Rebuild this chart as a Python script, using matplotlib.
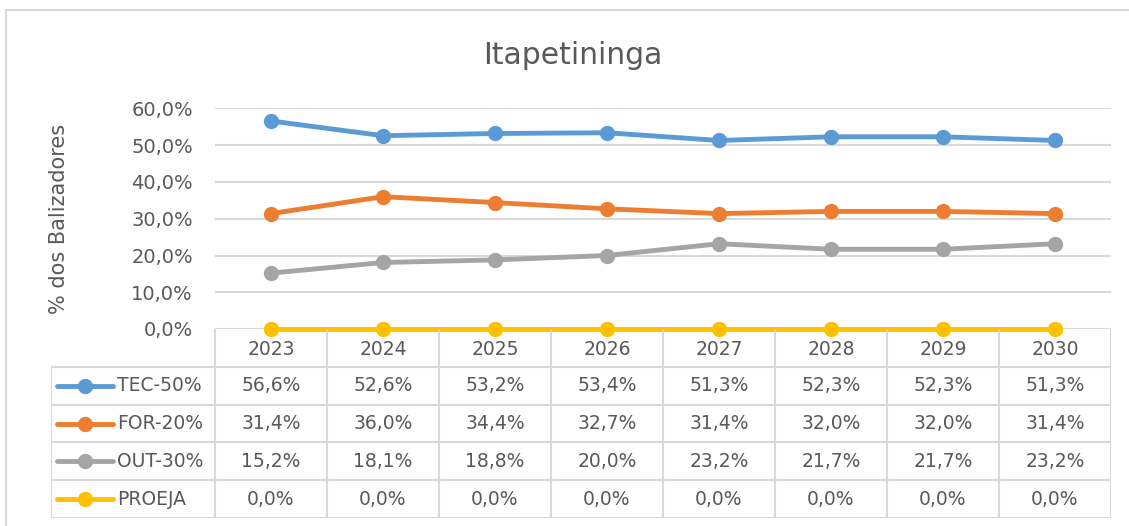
import matplotlib
matplotlib.use('Agg')
import matplotlib.pyplot as plt
from matplotlib.lines import Line2D
from matplotlib.ticker import FuncFormatter

# dados do grafico
anos = ['2023', '2024', '2025', '2026', '2027', '2028', '2029', '2030']
series = ['TEC-50%', 'FOR-20%', 'OUT-30%', 'PROEJA']
tec = [56.6, 52.6, 53.2, 53.4, 51.3, 52.3, 52.3, 51.3]
form = [31.4, 36.0, 34.4, 32.7, 31.4, 32.0, 32.0, 31.4]
out = [15.2, 18.1, 18.8, 20.0, 23.2, 21.7, 21.7, 23.2]
proeja = [0.0, 0.0, 0.0, 0.0, 0.0, 0.0, 0.0, 0.0]
cores = ['#5B9BD5', '#ED7D31', '#A5A5A5', '#FFC000']

W, H = 1129, 526
txt = '#595959'
grade = '#D9D9D9'

fig = plt.figure(figsize=(W / 100, H / 100), dpi=100)

def px(x0, y0, x1, y1):
    return [x0 / W, 1 - y1 / H, (x1 - x0) / W, (y1 - y0) / H]

# area do grafico
ax = fig.add_axes(px(215, 108.5, 1111, 329))
x = range(len(anos))
dados = [tec, form, out, proeja]
for vals, cor in zip(dados, cores):
    ax.plot(x, [v / 100 for v in vals], color=cor, lw=3.5, marker='o',
            markersize=10, clip_on=False, zorder=3)
ax.set_xlim(-0.5, len(anos) - 0.5)
ax.set_ylim(0, 0.6)
ax.set_yticks([i / 10 for i in range(7)])
ax.yaxis.set_major_formatter(FuncFormatter(lambda v, p: '{:.1f}%'.format(v * 100).replace('.', ',')))
ax.set_xticks([])
ax.tick_params(axis='y', length=0, labelsize=14, labelcolor=txt, pad=16)
ax.grid(axis='y', color=grade, lw=1.5)
for s in ax.spines.values():
    s.set_visible(False)
ax.set_ylabel('% dos Balizadores', fontsize=15, color=txt)
ax.yaxis.set_label_coords(-0.163, 0.5)

fig.text(573 / W, 1 - 55 / H, 'Itapetininga', ha='center', va='center',
         fontsize=21.5, color=txt)

# tabela de dados
tb = fig.add_axes(px(51, 329, 1111, 518))
n = len(anos)
xl = -0.5 - (215 - 51) / 112.0
tb.set_xlim(xl, n - 0.5)
tb.set_ylim(0, 5)
tb.axis('off')
lk = dict(color=grade, lw=1.5, zorder=1)
for k in range(n + 1):
    tb.plot([k - 0.5, k - 0.5], [0, 5], **lk)
tb.plot([xl, xl], [0, 4], **lk)
for r in range(5):
    tb.plot([xl, n - 0.5], [r, r], **lk)
for i, a in enumerate(anos):
    tb.text(i, 4.45, a, ha='center', va='center', fontsize=13.5, color=txt)
for j, (nome, vals, cor) in enumerate(zip(series, dados, cores)):
    yy = 3.5 - j
    tb.add_line(Line2D([xl + 0.055, xl + 0.555], [yy, yy], color=cor, lw=3.5,
                       solid_capstyle='round'))
    tb.plot([xl + 0.3], [yy], 'o', color=cor, markersize=10)
    tb.text(xl + 0.59, yy, nome, ha='left', va='center', fontsize=13.5, color=txt)
    for i, v in enumerate(vals):
        tb.text(i, yy, '{:.1f}%'.format(v).replace('.', ','), ha='center',
                va='center', fontsize=13.5, color=txt)

# borda externa
fig.add_artist(Line2D([6 / W, 6 / W], [0, 1 - 10 / H], color=grade, lw=1.5))
fig.add_artist(Line2D([6 / W, 1], [1 - 10 / H, 1 - 10 / H], color=grade, lw=1.5))

fig.savefig('out.png', dpi=100)
